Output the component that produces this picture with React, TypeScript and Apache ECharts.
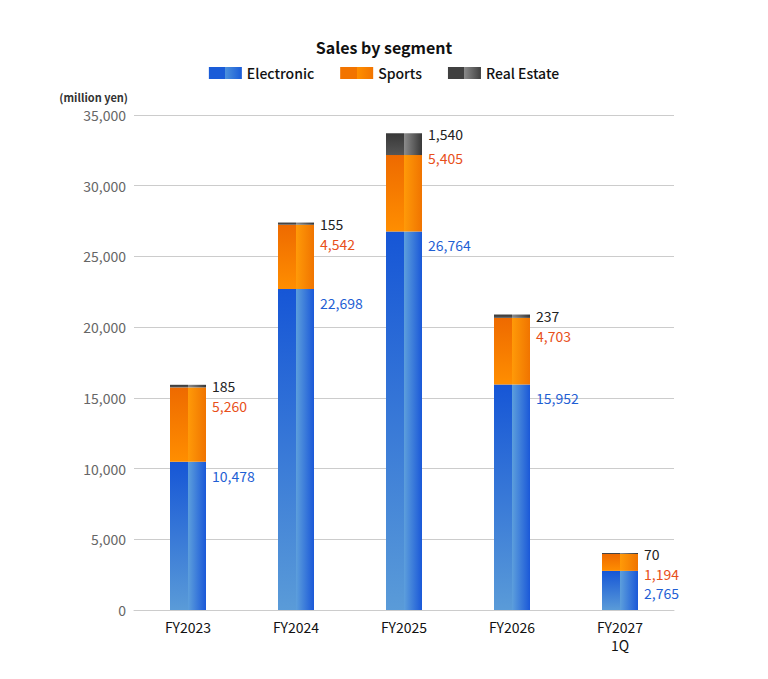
import React, { useEffect, useRef } from "react";
import * as echarts from "echarts";

const categories = ["FY2023", "FY2024", "FY2025", "FY2026", "FY2027\n1Q"];
const electronic = [10478, 22698, 26764, 15952, 2765];
const sports = [5260, 4542, 5405, 4703, 1194];
const realEstate = [185, 155, 1540, 237, 70];
const yTicks = { min: 0, max: 35000, interval: 5000 };

const FONT = '"Noto Sans CJK JP", "Noto Sans", sans-serif';

const vgrad = (top: string, bottom: string) =>
  new echarts.graphic.LinearGradient(0, 0, 0, 1, [
    { offset: 0, color: top },
    { offset: 1, color: bottom },
  ]);
const hgrad = (left: string, right: string) =>
  new echarts.graphic.LinearGradient(0, 0, 1, 0, [
    { offset: 0, color: left },
    { offset: 1, color: right },
  ]);
const legendGrad = (dark: string, light: string) =>
  new echarts.graphic.LinearGradient(0, 0, 1, 0, [
    { offset: 0, color: dark },
    { offset: 0.5, color: dark },
    { offset: 0.5, color: light },
    { offset: 1, color: dark },
  ]);

const fmt = (v: number) => v.toLocaleString("en-US");

export default function App() {
  const ref = useRef<HTMLDivElement>(null);
  useEffect(() => {
    if (!ref.current) return;
    const chart = echarts.init(ref.current, undefined, { renderer: "svg" });

    const segs = [
      {
        name: "Electronic",
        data: electronic,
        left: vgrad("#1656d6", "#5a9bd8"),
        right: hgrad("#5d9fdc", "#1a58d8"),
        legend: legendGrad("#1a5cd8", "#4b90dc"),
        labelColor: "#1f5fd4",
      },
      {
        name: "Sports",
        data: sports,
        left: vgrad("#ee6a00", "#ff8e00"),
        right: hgrad("#ff9a08", "#f07400"),
        legend: legendGrad("#f27400", "#ff9000"),
        labelColor: "#e8501a",
      },
      {
        name: "Real Estate",
        data: realEstate,
        left: vgrad("#383838", "#555555"),
        right: hgrad("#8c8c8c", "#383838"),
        legend: legendGrad("#404040", "#888888"),
        labelColor: "#222222",
      },
    ];

    // label y positions, computed top-down per category so labels never collide
    const labelYs = (i: number) => {
      const topOf = (v: number) => chart.convertToPixel({ gridIndex: 0 }, [i, v])[1];
      const eTop = topOf(electronic[i]);
      const sTop = topOf(electronic[i] + sports[i]);
      const rTop = topOf(electronic[i] + sports[i] + realEstate[i]);
      const r = rTop + 1;
      const s = Math.max(sTop + 3, r + 20);
      const e = Math.max(eTop + 14, s + 19);
      return [e, s, r];
    };

    const series: any[] = [];
    segs.forEach((s) => {
      series.push({
        name: s.name,
        type: "bar",
        stack: "L",
        barWidth: 18,
        barGap: "0%",
        data: s.data,
        itemStyle: { color: s.left },
        emphasis: { disabled: true },
      });
    });
    segs.forEach((s, k) => {
      series.push({
        name: s.name,
        type: "bar",
        stack: "R",
        barWidth: 18,
        barGap: "0%",
        data: s.data,
        itemStyle: { color: s.right },
        emphasis: { disabled: true },
        label: {
          show: true,
          position: "right",
          color: s.labelColor,
          fontSize: 14,
          fontFamily: FONT,
          formatter: (p: any) => fmt(p.value),
        },
        labelLayout: (p: any) => {
          const ys = labelYs(p.dataIndex);
          return {
            x: p.rect.x + p.rect.width + 6,
            y: ys[k],
            align: "left",
            verticalAlign: "middle",
          };
        },
      });
    });

    chart.setOption({
      animation: false,
      title: {
        text: "Sales by segment",
        left: "center",
        top: 26,
        textStyle: { fontSize: 16, fontWeight: "bold", color: "#111", fontFamily: FONT },
      },
      legend: {
        top: 53,
        left: "center",
        itemWidth: 33,
        itemHeight: 12,
        itemGap: 26,
        textStyle: { fontSize: 14, fontWeight: 500, color: "#111", fontFamily: FONT },
        data: segs.map((s) => ({
          name: s.name,
          icon: "rect",
          itemStyle: { color: s.legend },
        })),
      },
      grid: { left: 126, right: 86, top: 107, bottom: 61 },
      xAxis: {
        type: "category",
        data: categories,
        axisTick: { show: false },
        axisLine: { lineStyle: { color: "#cccccc" } },
        axisLabel: { color: "#111", fontSize: 14, lineHeight: 18, margin: 8, fontFamily: FONT },
      },
      yAxis: {
        type: "value",
        min: yTicks.min,
        max: yTicks.max,
        interval: yTicks.interval,
        name: "(million yen)",
        nameLocation: "end",
        nameGap: 13,
        nameTextStyle: {
          align: "right",
          padding: [0, 6, 0, 0],
          fontSize: 11,
          fontWeight: "bold",
          color: "#333",
          fontFamily: FONT,
        },
        axisLine: { show: false },
        axisTick: { show: false },
        splitLine: { lineStyle: { color: "#cccccc" } },
        axisLabel: {
          color: "#666",
          fontSize: 14,
          margin: 8,
          fontFamily: FONT,
          formatter: (v: number) => fmt(v),
        },
      },
      series,
    });
    return () => chart.dispose();
  }, []);
  return <div ref={ref} style={{ width: 752, height: 663 }} />;
}
